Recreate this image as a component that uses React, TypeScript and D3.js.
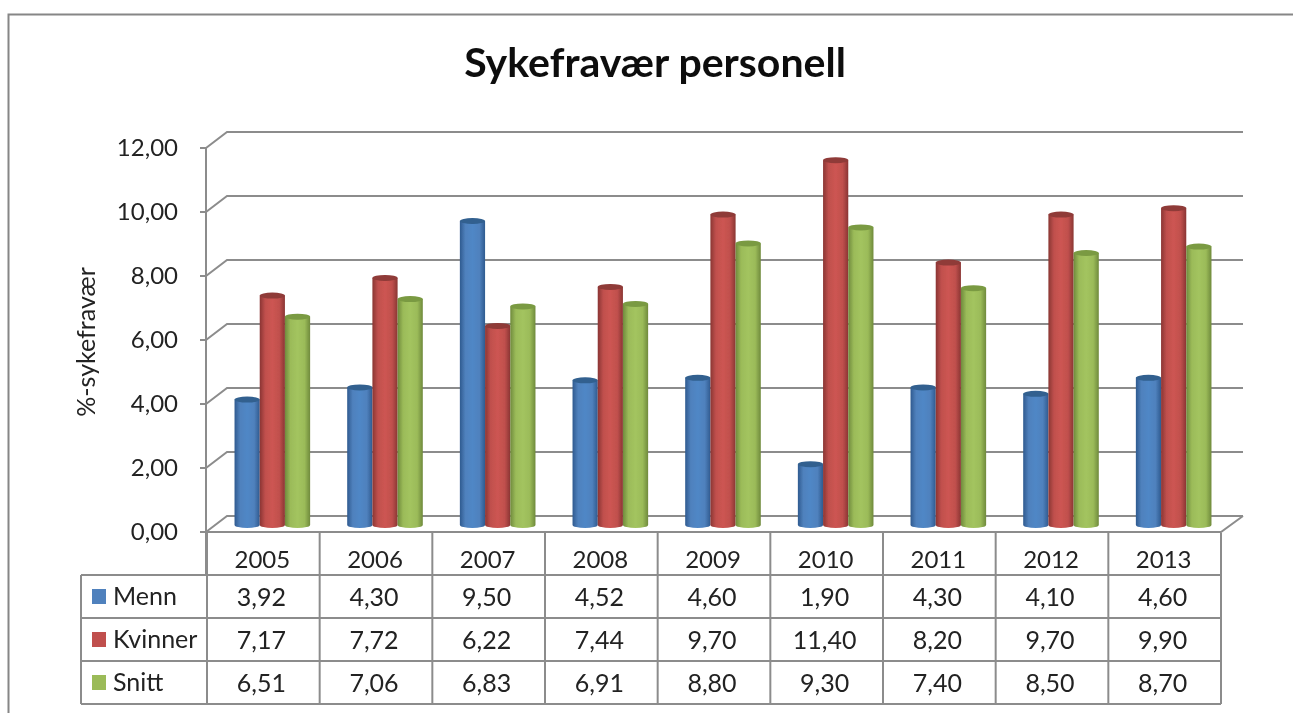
import React from "react";
import * as d3 from "d3";

const years = ["2005", "2006", "2007", "2008", "2009", "2010", "2011", "2012", "2013"];
const seriesNames = ["Menn", "Kvinner", "Snitt"];
const menn = [3.92, 4.3, 9.5, 4.52, 4.6, 1.9, 4.3, 4.1, 4.6];
const kvinner = [7.17, 7.72, 6.22, 7.44, 9.7, 11.4, 8.2, 9.7, 9.9];
const snitt = [6.51, 7.06, 6.83, 6.91, 8.8, 9.3, 7.4, 8.5, 8.7];
const yTicks = [0, 2, 4, 6, 8, 10, 12];
const fillMid = ["#4f81bd", "#c0504d", "#9bbb59"];
const fillLight = ["#4f87c6", "#cd5552", "#a3c45f"];
const fillDark = ["#2f5a8f", "#8a3533", "#6f8a3c"];
const fillTop = ["#31608f", "#8f3a38", "#7a9a42"];

const W = 1293, H = 713;
const font = "Lato, Carlito, 'Open Sans', sans-serif";
const textCol = "#222";
const lineCol = "#8c8c8c";
const comma = (v: number) => v.toFixed(2).replace(".", ",");
const all = [menn, kvinner, snitt];

export default function App() {
  const x = d3.scaleBand<string>().domain(years).range([207, 1221]).padding(0);
  const yFront = d3.scaleLinear().domain([0, 12]).range([532, 148]);
  const yBack = d3.scaleLinear().domain([0, 12]).range([516, 132]);
  const yBar = d3.scaleLinear().domain([0, 12]).range([525, 141]);
  const barW = 25.2;
  const bw = x.bandwidth();
  const rows = [575, 618, 661, 704];
  return (
    <svg width={W} height={H} style={{ position: "absolute", left: 0, top: 0, background: "#fff" }} fontFamily={font}>
      <defs>
        {fillMid.map((c, i) => (
          <linearGradient key={i} id={`cyl${i}`} x1="0" x2="1" y1="0" y2="0">
            <stop offset="0" stopColor={fillDark[i]} />
            <stop offset="0.22" stopColor={c} />
            <stop offset="0.5" stopColor={fillLight[i]} />
            <stop offset="0.78" stopColor={c} />
            <stop offset="1" stopColor={fillDark[i]} />
          </linearGradient>
        ))}
        <filter id="soft" x="-5%" y="-5%" width="110%" height="110%">
          <feGaussianBlur stdDeviation="0.55" />
        </filter>
        <filter id="softText" x="-5%" y="-5%" width="110%" height="110%">
          <feGaussianBlur stdDeviation="0.35" />
        </filter>
      </defs>
      <path d={`M1293,14.5H8.5V713`} fill="none" stroke="#868686" strokeWidth={2} />
      <g filter="url(#soft)">
        {yTicks.map((t) => (
          <g key={t} stroke={lineCol} strokeWidth={2} fill="none">
            <path d={`M206,${yFront(t)}L227,${yBack(t)}H1243`} />
            <path d={`M200,${yFront(t)}H206`} />
          </g>
        ))}
        <path d={`M206,148V575`} stroke={lineCol} strokeWidth={2} />
        <path d={`M206,532H1221L1243,516`} stroke={lineCol} strokeWidth={2} fill="none" />
        {years.map((yr, j) =>
          all.map((s, i) => {
            const left = (x(yr) as number) + (bw - 3 * barW) / 2 + 9 + i * barW;
            const top = yBar(s[j]);
            const b = yBar(0);
            const rx = barW / 2, ry = 3;
            return (
              <g key={yr + i}>
                <path d={`M${left},${top}V${b}A${rx},${ry} 0 0 0 ${left + barW},${b}V${top}Z`} fill={`url(#cyl${i})`} />
                <ellipse cx={left + rx} cy={top} rx={rx} ry={ry} fill={fillTop[i]} />
              </g>
            );
          })
        )}
        <g stroke={lineCol} strokeWidth={2} fill="none">
          {d3.range(0, years.length + 1).map((k) => (
            <path key={k} d={`M${207 + k * bw},533V${rows[3]}`} />
          ))}
          {rows.map((r) => <path key={r} d={`M81,${r}H1221`} />)}
          <path d={`M81,575V704`} />
        </g>
      </g>
      <g filter="url(#softText)">
        <text x={655} y={77} textAnchor="middle" fontSize={41} fontWeight={700} fill="#111">Sykefravær personell</text>
        {yTicks.map((t) => (
          <text key={t} x={178} y={yFront(t) + 8} textAnchor="end" fontSize={24} fill={textCol}>{comma(t)}</text>
        ))}
        <text transform="translate(95,342) rotate(-90)" textAnchor="middle" fontSize={25} fill={textCol}>%-sykefravær</text>
        {years.map((yr) => (
          <text key={yr} x={(x(yr) as number) + bw / 2 - 1} y={568} textAnchor="middle" fontSize={24} fill={textCol}>{yr}</text>
        ))}
        {seriesNames.map((n, i) => (
          <g key={n}>
            <rect x={92} y={rows[i] + 14} width={14} height={15} fill={fillMid[i]} />
            <text x={113} y={rows[i] + 30} fontSize={25} fill={textCol}>{n}</text>
            {years.map((yr, j) => (
              <text key={yr} x={(x(yr) as number) + bw / 2 - 2} y={rows[i] + 31} textAnchor="middle" fontSize={25} fill={textCol}>{comma(all[i][j])}</text>
            ))}
          </g>
        ))}
      </g>
    </svg>
  );
}
